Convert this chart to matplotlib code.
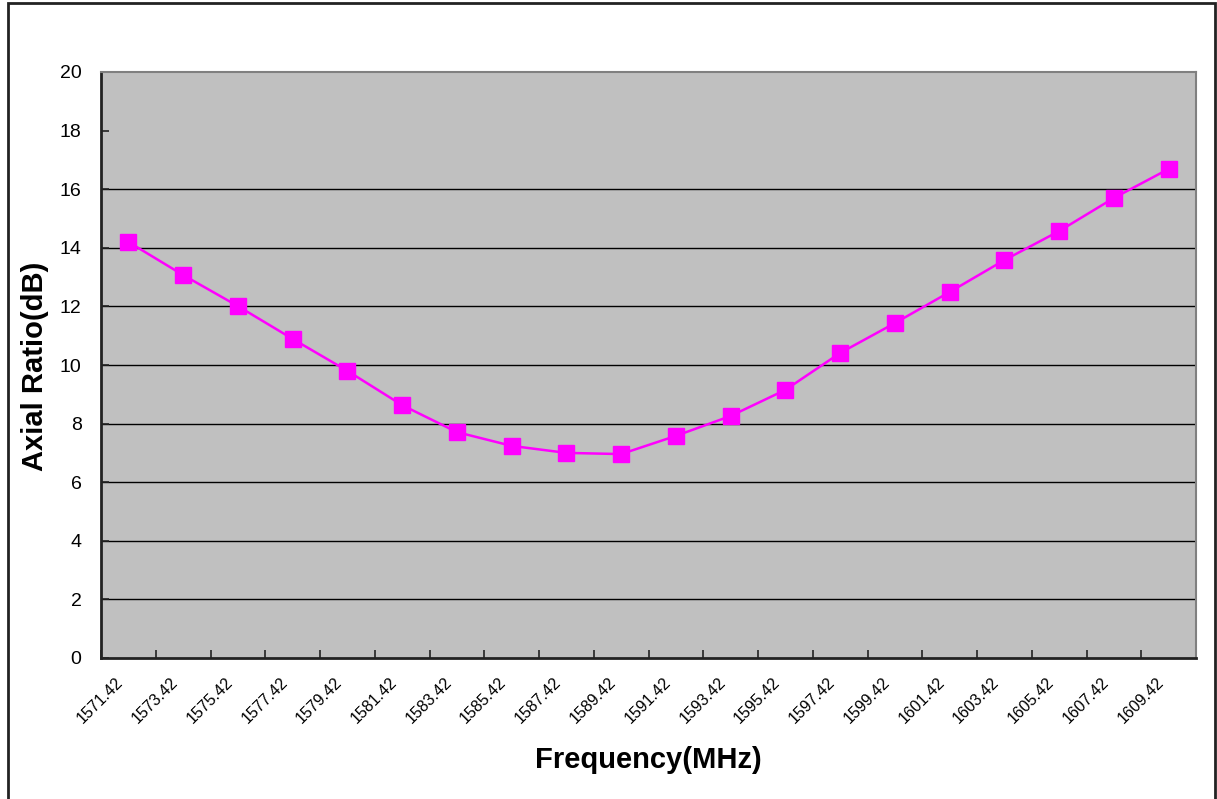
import matplotlib
matplotlib.use("Agg")
import matplotlib.pyplot as plt
from matplotlib.patches import Rectangle
from matplotlib.transforms import ScaledTranslation

plt.rcParams['font.family'] = ['Liberation Sans', 'DejaVu Sans']

frequencies = ["1571.42", "1573.42", "1575.42", "1577.42", "1579.42",
               "1581.42", "1583.42", "1585.42", "1587.42", "1589.42",
               "1591.42", "1593.42", "1595.42", "1597.42", "1599.42",
               "1601.42", "1603.42", "1605.42", "1607.42", "1609.42"]
axial_ratio = [14.2, 13.07, 12.01, 10.89, 9.8, 8.63, 7.71, 7.24, 7.0, 6.96,
               7.58, 8.26, 9.15, 10.41, 11.43, 12.49, 13.58, 14.57, 15.7, 16.69]
y_ticks = [0, 2, 4, 6, 8, 10, 12, 14, 16, 18, 20]
grid_values = [2, 4, 6, 8, 10, 12, 14, 16]

fig = plt.figure(figsize=(12.17, 7.99), dpi=100)
ax = fig.add_axes([101/1217, 1-658/799, (1196-101)/1217, (658-72)/799])
ax.set_facecolor('#C0C0C0')

n = len(frequencies)
xs = list(range(n))
ax.set_xlim(-0.5, n - 0.5)
ax.set_ylim(0, 20)

ax.hlines(grid_values, -0.5, n - 0.5, colors='black', linewidth=1.0, zorder=1)

ax.plot(xs, axial_ratio, color='#FF00FF', linewidth=1.8, marker='s',
        markersize=11.5, markeredgecolor='#FF00FF', zorder=3, clip_on=False)

# x ticks at category boundaries, labels at category centres
ax.set_xticks([i - 0.5 for i in range(n + 1)])
ax.set_xticklabels([])
ax.set_xticks(xs, minor=True)
ax.set_xticklabels(frequencies, minor=True, rotation=45, ha='right',
                   rotation_mode='anchor', fontsize=11.5)
ax.tick_params(axis='x', which='major', direction='in', length=6, width=1.2, color='#222222')
ax.tick_params(axis='x', which='minor', length=0, pad=12)
shift = ScaledTranslation(-13/100, 0, fig.dpi_scale_trans)
for lbl in ax.get_xticklabels(minor=True):
    lbl.set_transform(lbl.get_transform() + shift)

ax.set_yticks(y_ticks)
ax.set_yticklabels([str(v) for v in y_ticks], fontsize=14)
ax.tick_params(axis='y', direction='in', length=6, width=1.2, pad=14, color='#222222')

for side in ['left', 'bottom']:
    ax.spines[side].set_color('#222222')
    ax.spines[side].set_linewidth(2.0)
for side in ['top', 'right']:
    ax.spines[side].set_color('#808080')
    ax.spines[side].set_linewidth(1.5)

fig.text(648/1217, 1-760/799, 'Frequency(MHz)', fontsize=21, fontweight='bold',
         ha='center', va='center')
fig.text(35/1217, 1-366/799, 'Axial Ratio(dB)', fontsize=21, fontweight='bold',
         ha='center', va='center', rotation=90)

border = Rectangle((8/1217, -0.05), (1215-8)/1217, 1.05 - 3/799, transform=fig.transFigure,
                   fill=False, edgecolor='#222222', linewidth=2.0, clip_on=False)
fig.patches.append(border)

fig.savefig('out.png', dpi=100, facecolor='white')
